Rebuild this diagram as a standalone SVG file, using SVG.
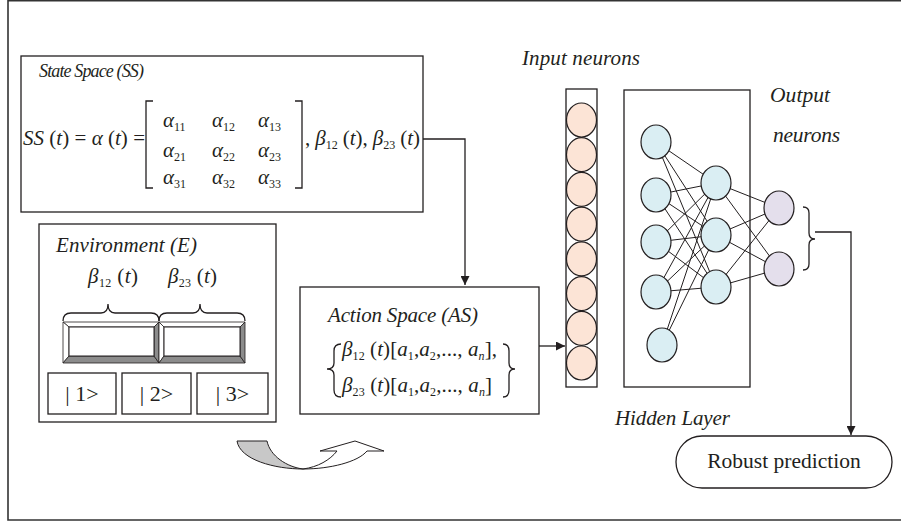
<svg xmlns="http://www.w3.org/2000/svg" width="901" height="523" viewBox="0 0 901 523">
  <style>
    .t { font-family: "Liberation Serif", "DejaVu Serif", serif; fill: #231f20; }
    .i { font-style: italic; }
    .sub { font-size: 12px; font-style: normal; }
    .subi { font-size: 12px; font-style: italic; }
    .box { fill: #ffffff; stroke: #231f20; stroke-width: 1.3; }
    .ln { fill: none; stroke: #231f20; stroke-width: 1.3; }
    .edge { stroke: #231f20; stroke-width: 1; }
    .inp { fill: #fce4d6; stroke: #231f20; stroke-width: 1.2; }
    .hid { fill: #daeef3; stroke: #231f20; stroke-width: 1.2; }
    .out { fill: #e4dfec; stroke: #231f20; stroke-width: 1.2; }
    .bev-dark { fill: #8c8c8c; stroke: #231f20; stroke-width: 0.8; }
    .bev-light { fill: #ffffff; stroke: #231f20; stroke-width: 0.8; }
  </style>
  <defs>
    <marker id="arrow" viewBox="0 0 10 10" refX="10" refY="5" markerWidth="9" markerHeight="9" markerUnits="userSpaceOnUse" orient="auto">
      <path d="M0,0 L10,5 L0,10 Z" fill="#231f20"/>
    </marker>
  </defs>

  <rect width="901" height="523" fill="#ffffff"/>
  <!-- frame -->
  <path d="M8,0.8 H901 M8,0 V520 H901" fill="none" stroke="#333333" stroke-width="1.6"/>

  <!-- State space -->
  <g id="state-space">
    <rect class="box" x="21" y="56" width="402" height="156"/>
    <text class="t i" x="39" y="77" font-size="18" textLength="105">State Space (SS)</text>
    <text class="t" x="23" y="145" font-size="21" textLength="122"><tspan class="i">SS</tspan> (<tspan class="i">t</tspan>) = <tspan class="i">α</tspan> (<tspan class="i">t</tspan>) =</text>
    <path class="ln" d="M153,101 H146 V188 H153 M295,101 H302 V188 H295"/>
    <g class="t i" font-size="21">
      <text x="163" y="127">α<tspan class="sub" dy="4">11</tspan></text>
      <text x="212" y="127">α<tspan class="sub" dy="4">12</tspan></text>
      <text x="258" y="127">α<tspan class="sub" dy="4">13</tspan></text>
      <text x="163" y="157">α<tspan class="sub" dy="4">21</tspan></text>
      <text x="212" y="157">α<tspan class="sub" dy="4">22</tspan></text>
      <text x="258" y="157">α<tspan class="sub" dy="4">23</tspan></text>
      <text x="163" y="184">α<tspan class="sub" dy="4">31</tspan></text>
      <text x="212" y="184">α<tspan class="sub" dy="4">32</tspan></text>
      <text x="258" y="184">α<tspan class="sub" dy="4">33</tspan></text>
    </g>
    <text class="t" x="305" y="145" font-size="21" textLength="115">, <tspan class="i">β</tspan><tspan class="sub" dy="4">12</tspan><tspan dy="-4"> (</tspan><tspan class="i">t</tspan>), <tspan class="i">β</tspan><tspan class="sub" dy="4">23</tspan><tspan dy="-4"> (</tspan><tspan class="i">t</tspan>)</text>
  </g>

  <!-- Environment -->
  <g id="environment">
    <rect class="box" x="39" y="224" width="237" height="198"/>
    <text class="t i" x="56" y="252" font-size="21" textLength="141">Environment (E)</text>
    <text class="t" x="88" y="283" font-size="21" textLength="50"><tspan class="i">β</tspan><tspan class="sub" dy="4">12</tspan><tspan dy="-4"> (</tspan><tspan class="i">t</tspan>)</text>
    <text class="t" x="168" y="283" font-size="21" textLength="49"><tspan class="i">β</tspan><tspan class="sub" dy="4">23</tspan><tspan dy="-4"> (</tspan><tspan class="i">t</tspan>)</text>
    <path class="ln" d="M63,321 Q63,313 71,313 L101,313 Q108,313 108,304 Q108,313 115,313 L151,313 Q159,313 159,321"/>
    <path class="ln" d="M159,321 Q159,313 167,313 L193,313 Q200,313 200,304 Q200,313 207,313 L237,313 Q245,313 245,321"/>
    <!-- bevelled slots -->
    <g>
      <polygon class="bev-light" points="63,322 159,322 154,327 69,327"/>
      <polygon class="bev-light" points="63,322 69,327 69,356 63,363"/>
      <polygon class="bev-dark" points="63,363 69,356 154,356 159,363"/>
      <polygon class="bev-dark" points="159,322 154,327 154,356 159,363"/>
      <rect x="69" y="327" width="85" height="29" fill="#ffffff" stroke="#231f20" stroke-width="1"/>
    </g>
    <g>
      <polygon class="bev-light" points="159,322 245,322 240,327 164,327"/>
      <polygon class="bev-light" points="159,322 164,327 164,356 159,363"/>
      <polygon class="bev-dark" points="159,363 164,356 240,356 245,363"/>
      <polygon class="bev-dark" points="245,322 240,327 240,356 245,363"/>
      <rect x="164" y="327" width="76" height="29" fill="#ffffff" stroke="#231f20" stroke-width="1"/>
    </g>
    <rect class="box" x="48" y="373" width="68" height="41"/>
    <rect class="box" x="122" y="373" width="69" height="41"/>
    <rect class="box" x="197" y="373" width="71" height="41"/>
    <text class="t" x="82" y="401" font-size="22" text-anchor="middle">| 1&gt;</text>
    <text class="t" x="156.5" y="401" font-size="22" text-anchor="middle">| 2&gt;</text>
    <text class="t" x="232.5" y="401" font-size="22" text-anchor="middle">| 3&gt;</text>
  </g>

  <!-- curved transition arrow -->
  <g id="transition-arrow">
    <path d="M237,441 L267,441 C270,456 287,467 303,469 C275,469 240,460 237,441 Z" fill="#c8c8c8" stroke="#231f20" stroke-width="1"/>
    <path d="M303,469 C330,469 358,462 367,451 L384,451 L355,441 L320,451 L337,451 C330,460 318,467 303,469 Z" fill="#ffffff" stroke="#231f20" stroke-width="1"/>
  </g>

  <!-- Action space -->
  <g id="action-space">
    <rect class="box" x="300" y="287" width="239" height="127"/>
    <text class="t i" x="328" y="322" font-size="21" textLength="150">Action Space (AS)</text>
    <path class="ln" d="M341,344 Q334,344 334,351 L334,363 Q334,369 327,369 Q334,369 334,375 L334,390 Q334,397 341,397"/>
    <path class="ln" d="M503,344 Q509,344 509,351 L509,363 Q509,369 515,369 Q509,369 509,375 L509,390 Q509,397 503,397"/>
    <text class="t" x="342" y="356" font-size="21" textLength="155"><tspan class="i">β</tspan><tspan class="sub" dy="4">12</tspan><tspan dy="-4"> (</tspan><tspan class="i">t</tspan>)[<tspan class="i">a</tspan><tspan class="sub" dy="4">1</tspan><tspan dy="-4">,</tspan><tspan class="i">a</tspan><tspan class="sub" dy="4">2</tspan><tspan dy="-4">,..., </tspan><tspan class="i">a</tspan><tspan class="subi" dy="4">n</tspan><tspan dy="-4">],</tspan></text>
    <text class="t" x="342" y="392" font-size="21" textLength="150"><tspan class="i">β</tspan><tspan class="sub" dy="4">23</tspan><tspan dy="-4"> (</tspan><tspan class="i">t</tspan>)[<tspan class="i">a</tspan><tspan class="sub" dy="4">1</tspan><tspan dy="-4">,</tspan><tspan class="i">a</tspan><tspan class="sub" dy="4">2</tspan><tspan dy="-4">,..., </tspan><tspan class="i">a</tspan><tspan class="subi" dy="4">n</tspan><tspan dy="-4">]</tspan></text>
  </g>

  <!-- Input neurons -->
  <g id="input-neurons">
    <text class="t i" x="522" y="65" font-size="21" textLength="118">Input neurons</text>
    <rect class="box" x="566" y="89" width="31" height="298"/>
    <ellipse class="inp" cx="581.5" cy="120" rx="15" ry="17"/>
    <ellipse class="inp" cx="581.5" cy="154.7" rx="15" ry="17"/>
    <ellipse class="inp" cx="581.5" cy="189.4" rx="15" ry="17"/>
    <ellipse class="inp" cx="581.5" cy="224.1" rx="15" ry="17"/>
    <ellipse class="inp" cx="581.5" cy="258.9" rx="15" ry="17"/>
    <ellipse class="inp" cx="581.5" cy="293.6" rx="15" ry="17"/>
    <ellipse class="inp" cx="581.5" cy="328.3" rx="15" ry="17"/>
    <ellipse class="inp" cx="581.5" cy="363" rx="15" ry="17"/>
  </g>

  <!-- Hidden layer -->
  <g id="hidden-layer">
    <rect class="box" x="624" y="90" width="126" height="297"/>
    <text class="t i" x="615" y="425" font-size="21" textLength="115">Hidden Layer</text>
    <g class="edge">
      <line x1="656" y1="142" x2="716" y2="183"/>
      <line x1="656" y1="142" x2="716" y2="235"/>
      <line x1="656" y1="142" x2="716" y2="287"/>
      <line x1="656" y1="195" x2="716" y2="183"/>
      <line x1="656" y1="195" x2="716" y2="235"/>
      <line x1="656" y1="195" x2="716" y2="287"/>
      <line x1="656" y1="242" x2="716" y2="183"/>
      <line x1="656" y1="242" x2="716" y2="235"/>
      <line x1="656" y1="242" x2="716" y2="287"/>
      <line x1="656" y1="292" x2="716" y2="183"/>
      <line x1="656" y1="292" x2="716" y2="235"/>
      <line x1="656" y1="292" x2="716" y2="287"/>
      <line x1="662" y1="345" x2="716" y2="183"/>
      <line x1="662" y1="345" x2="716" y2="235"/>
      <line x1="716" y1="183" x2="779" y2="208"/>
      <line x1="716" y1="183" x2="779" y2="269"/>
      <line x1="716" y1="235" x2="779" y2="208"/>
      <line x1="716" y1="235" x2="779" y2="269"/>
      <line x1="716" y1="287" x2="779" y2="208"/>
      <line x1="716" y1="287" x2="779" y2="269"/>
    </g>
    <ellipse class="hid" cx="656" cy="142" rx="15" ry="17"/>
    <ellipse class="hid" cx="656" cy="195" rx="15" ry="17"/>
    <ellipse class="hid" cx="656" cy="242" rx="15" ry="17"/>
    <ellipse class="hid" cx="656" cy="292" rx="15" ry="17"/>
    <ellipse class="hid" cx="662" cy="345" rx="15" ry="17"/>
    <ellipse class="hid" cx="716" cy="183" rx="15" ry="17"/>
    <ellipse class="hid" cx="716" cy="235" rx="15" ry="17"/>
    <ellipse class="hid" cx="716" cy="287" rx="15" ry="17"/>
  </g>

  <!-- Output neurons -->
  <g id="output-neurons">
    <text class="t i" x="770" y="102" font-size="21.5" textLength="60">Output</text>
    <text class="t i" x="773" y="142" font-size="21.5" textLength="67">neurons</text>
    <ellipse class="out" cx="779" cy="208" rx="15" ry="17"/>
    <ellipse class="out" cx="779" cy="269" rx="15" ry="17"/>
    <path class="ln" d="M803,207 Q809,207 809,213 L809,233 Q809,239 815,239 Q809,239 809,245 L809,264 Q809,270 803,270"/>
  </g>

  <!-- Robust prediction -->
  <g id="robust-prediction">
    <rect class="box" x="676" y="436" width="216" height="52" rx="26" ry="26"/>
    <text class="t" x="784" y="468" font-size="21.5" text-anchor="middle">Robust prediction</text>
  </g>

  <!-- connectors -->
  <g id="connectors" fill="none" stroke="#231f20" stroke-width="1.3">
    <path d="M423,139 H465 V285" marker-end="url(#arrow)"/>
    <path d="M539,346 H565" marker-end="url(#arrow)"/>
    <path d="M815,232 H851 V435" marker-end="url(#arrow)"/>
  </g>
</svg>
